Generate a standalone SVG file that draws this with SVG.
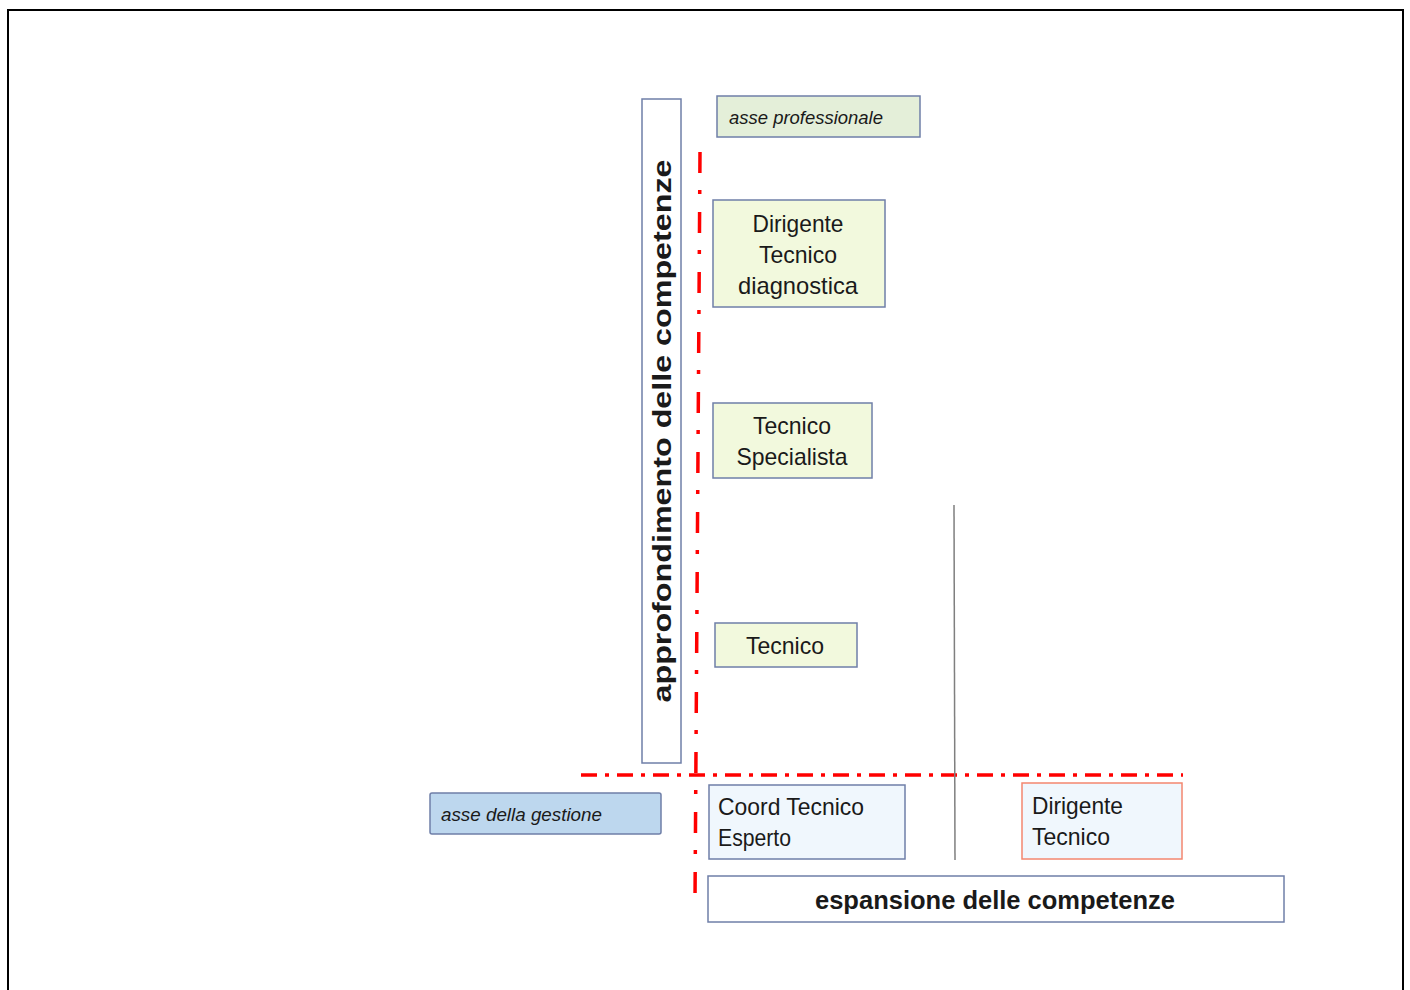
<svg xmlns="http://www.w3.org/2000/svg" width="1410" height="990" viewBox="0 0 1410 990">
<style>
.box{stroke:#6f7fa8;stroke-width:1.5}
.t{font-family:"Liberation Sans",Arial,sans-serif;fill:#1a1a1a}
.axis{stroke:#ff0000;stroke-width:3.5;fill:none}
.v{stroke-dasharray:21 17 4 18}
.h{stroke-dasharray:16 8 4 8}
</style>
<rect x="0" y="0" width="1410" height="990" fill="#ffffff"/>
<rect x="8" y="10" width="1395" height="1000" fill="none" stroke="#000" stroke-width="2"/>
<g id="connectors">
<line class="axis v" x1="700" y1="152" x2="695" y2="900"/>
<line class="axis h" x1="581" y1="775" x2="1183" y2="775"/>
<line x1="954" y1="505" x2="955" y2="860" stroke="#7f7f7f" stroke-width="1.5"/>
</g>
<g id="vaxis">
<rect class="box" x="642" y="99" width="39" height="664" fill="#fff"/>
<text class="t" transform="translate(671,431) rotate(-90)" text-anchor="middle" font-size="25" font-weight="bold" textLength="543" lengthAdjust="spacingAndGlyphs">approfondimento delle competenze</text>
</g>
<g id="asse-prof">
<rect class="box" x="717" y="96" width="203" height="41" fill="#e4efd9"/>
<text class="t" x="729" y="124" font-size="19" font-style="italic" textLength="154" lengthAdjust="spacingAndGlyphs">asse professionale</text>
</g>
<g id="dirigente-diag">
<rect class="box" x="713" y="200" width="172" height="107" fill="#f2f9dd"/>
<text class="t" font-size="24" text-anchor="middle"><tspan x="798" y="232" textLength="91" lengthAdjust="spacingAndGlyphs">Dirigente</tspan><tspan x="798" y="263" textLength="78" lengthAdjust="spacingAndGlyphs">Tecnico</tspan><tspan x="798" y="294" textLength="120" lengthAdjust="spacingAndGlyphs">diagnostica</tspan></text>
</g>
<g id="tecnico-spec">
<rect class="box" x="713" y="403" width="159" height="75" fill="#f2f9dd"/>
<text class="t" font-size="24" text-anchor="middle"><tspan x="792" y="434" textLength="78" lengthAdjust="spacingAndGlyphs">Tecnico</tspan><tspan x="792" y="465" textLength="111" lengthAdjust="spacingAndGlyphs">Specialista</tspan></text>
</g>
<g id="tecnico">
<rect class="box" x="715" y="623" width="142" height="44" fill="#f2f9dd"/>
<text class="t" font-size="24" text-anchor="middle" x="785" y="654" textLength="78" lengthAdjust="spacingAndGlyphs">Tecnico</text>
</g>
<g id="asse-gest">
<rect class="box" x="430" y="793" width="231" height="41" fill="#bdd7ee" rx="2"/>
<text class="t" x="441" y="821" font-size="19" font-style="italic" textLength="161" lengthAdjust="spacingAndGlyphs">asse della gestione</text>
</g>
<g id="coord">
<rect class="box" x="709" y="785" width="196" height="74" fill="#f0f7fd"/>
<text class="t" font-size="24"><tspan x="718" y="815" textLength="146" lengthAdjust="spacingAndGlyphs">Coord Tecnico</tspan><tspan x="718" y="846" textLength="73" lengthAdjust="spacingAndGlyphs">Esperto</tspan></text>
</g>
<g id="dirigente-tec">
<rect x="1022" y="783" width="160" height="76" fill="#f0f7fd" stroke="#f4876f" stroke-width="1.5"/>
<text class="t" font-size="24"><tspan x="1032" y="814" textLength="91" lengthAdjust="spacingAndGlyphs">Dirigente</tspan><tspan x="1032" y="845" textLength="78" lengthAdjust="spacingAndGlyphs">Tecnico</tspan></text>
</g>
<g id="espansione">
<rect class="box" x="708" y="876" width="576" height="46" fill="#fff"/>
<text class="t" x="995" y="909" text-anchor="middle" font-size="25" font-weight="bold" textLength="360" lengthAdjust="spacingAndGlyphs">espansione delle competenze</text>
</g>
</svg>
